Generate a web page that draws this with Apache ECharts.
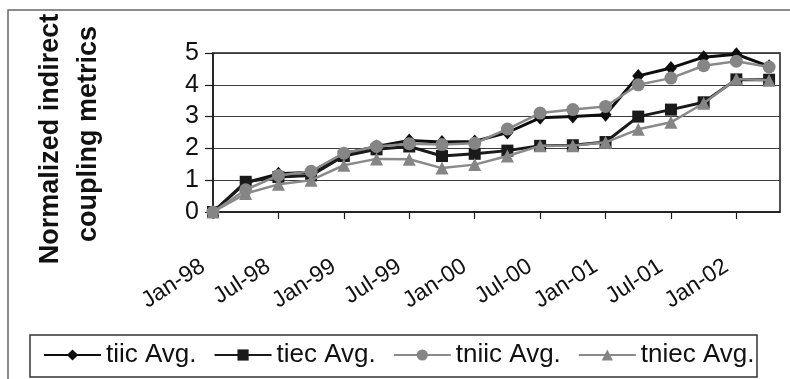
<!DOCTYPE html>
<html>
<head>
<meta charset="utf-8">
<script src="https://cdn.jsdelivr.net/npm/echarts@6/dist/echarts.min.js"></script>
<style>
  html, body { margin: 0; padding: 0; background: #fff; }
  #chart { width: 790px; height: 379px; }
</style>
</head>
<body>
<div id="chart"></div>
<script>
// Quarterly sample dates
const categories = ['Jan-98','Apr-98','Jul-98','Oct-98','Jan-99','Apr-99','Jul-99','Oct-99',
  'Jan-00','Apr-00','Jul-00','Oct-00','Jan-01','Apr-01','Jul-01','Oct-01','Jan-02','Apr-02'];

// Averages of the normalized indirect coupling metrics
const tiicAvg  = [0, 0.92, 1.2, 1.25, 1.83, 2.06, 2.25, 2.2, 2.22, 2.5, 2.96, 3.0, 3.06, 4.28, 4.53, 4.87, 4.96, 4.58];
const tiecAvg  = [0, 0.95, 1.1, 1.15, 1.76, 1.97, 2.06, 1.76, 1.83, 1.93, 2.08, 2.1, 2.2, 3.0, 3.22, 3.45, 4.17, 4.16];
const tniicAvg = [0, 0.7, 1.15, 1.28, 1.85, 2.06, 2.15, 2.12, 2.16, 2.61, 3.11, 3.22, 3.32, 4.0, 4.21, 4.6, 4.74, 4.56];
const tniecAvg = [0, 0.58, 0.87, 1.0, 1.47, 1.67, 1.66, 1.38, 1.49, 1.76, 2.08, 2.08, 2.19, 2.6, 2.82, 3.42, 4.18, 4.14];

// Axis tick labels (every six months)
const tickLabels = ['Jan-98','Jul-98','Jan-99','Jul-99','Jan-00','Jul-00','Jan-01','Jul-01','Jan-02'];

const MONTHS = ['Jan','Feb','Mar','Apr','May','Jun','Jul','Aug','Sep','Oct','Nov','Dec'];
// months elapsed since Jan-98
function monthIndex(label) {
  const [m, y] = label.split('-');
  const yy = parseInt(y, 10);
  const year = yy < 50 ? 2000 + yy : 1900 + yy;
  return (year - 1998) * 12 + MONTHS.indexOf(m);
}
const tickByMonth = {};
tickLabels.forEach(t => { tickByMonth[monthIndex(t)] = t; });

function pairs(values) {
  return categories.map((c, i) => [monthIndex(c), values[i]]);
}

const FONT = 'Liberation Sans, Arial, sans-serif';

const chart = echarts.init(document.getElementById('chart'), null, { renderer: 'canvas' });

chart.setOption({
  backgroundColor: '#fff',
  animation: false,
  grid: {
    left: 213, top: 53, right: 10, bottom: 167,
    show: true, borderColor: '#1a1a1a', borderWidth: 1.5, backgroundColor: 'transparent'
  },
  xAxis: {
    type: 'value',
    min: 0, max: 52, interval: 6,
    axisLine: { show: true, lineStyle: { color: '#1a1a1a', width: 1.5 } },
    axisTick: { show: true, length: 7, inside: false, lineStyle: { color: '#1a1a1a', width: 1.2 } },
    splitLine: { show: false },
    axisLabel: {
      rotate: 33, margin: 46,
      padding: [0, 12, 0, 0],
      fontFamily: FONT, fontSize: 23, color: '#111',
      showMaxLabel: false,
      formatter: v => tickByMonth[v] || ''
    }
  },
  yAxis: {
    type: 'value',
    min: 0, max: 5, interval: 1,
    axisLine: { show: true, lineStyle: { color: '#1a1a1a', width: 1.5 } },
    axisTick: { show: true, length: 8, lineStyle: { color: '#1a1a1a', width: 1.2 } },
    splitLine: { show: true, lineStyle: { color: '#3c3c3c', width: 1.2 } },
    axisLabel: { fontFamily: FONT, fontSize: 25, color: '#111', margin: 14 }
  },
  legend: {
    left: 43, top: 342,
    itemWidth: 57, itemHeight: 14, itemGap: 17,
    padding: 0,
    textStyle: { fontFamily: FONT, fontSize: 26, color: '#111', padding: [0, 0, 0, 0] },
    data: ['tiic Avg.', 'tiec Avg.', 'tniic Avg.', 'tniec Avg.']
  },
  graphic: [
    { type: 'rect', silent: true, z: -1,
      shape: { x: 8, y: 10, width: 800, height: 400 },
      style: { fill: 'none', stroke: '#666', lineWidth: 1.5 } },
    { type: 'rect', silent: true,
      shape: { x: 30, y: 335, width: 727, height: 42 },
      style: { fill: 'none', stroke: '#333', lineWidth: 1.5 } },
    { type: 'text', silent: true, x: 51, y: 139, rotation: Math.PI / 2,
      style: { text: 'Normalized indirect', fontFamily: FONT, fontSize: 27, fontWeight: 'bold',
        fill: '#111', align: 'center', verticalAlign: 'middle' } },
    { type: 'text', silent: true, x: 89, y: 134, rotation: Math.PI / 2,
      style: { text: 'coupling metrics', fontFamily: FONT, fontSize: 27, fontWeight: 'bold',
        fill: '#111', align: 'center', verticalAlign: 'middle' } }
  ],
  series: [
    { name: 'tiic Avg.', type: 'line', data: pairs(tiicAvg),
      symbol: 'diamond', symbolSize: [12, 14],
      lineStyle: { color: '#0d0d0d', width: 3 },
      itemStyle: { color: '#0d0d0d' }, z: 2 },
    { name: 'tiec Avg.', type: 'line', data: pairs(tiecAvg),
      symbol: 'rect', symbolSize: 12,
      lineStyle: { color: '#1a1a1a', width: 3 },
      itemStyle: { color: '#1a1a1a' }, z: 3 },
    { name: 'tniic Avg.', type: 'line', data: pairs(tniicAvg),
      symbol: 'circle', symbolSize: 13,
      lineStyle: { color: '#8a8a8a', width: 2.5 },
      itemStyle: { color: '#858585' }, z: 4 },
    { name: 'tniec Avg.', type: 'line', data: pairs(tniecAvg),
      symbol: 'triangle', symbolSize: 13,
      lineStyle: { color: '#8a8a8a', width: 2.5 },
      itemStyle: { color: '#858585' }, z: 5 }
  ]
});
</script>
</body>
</html>
